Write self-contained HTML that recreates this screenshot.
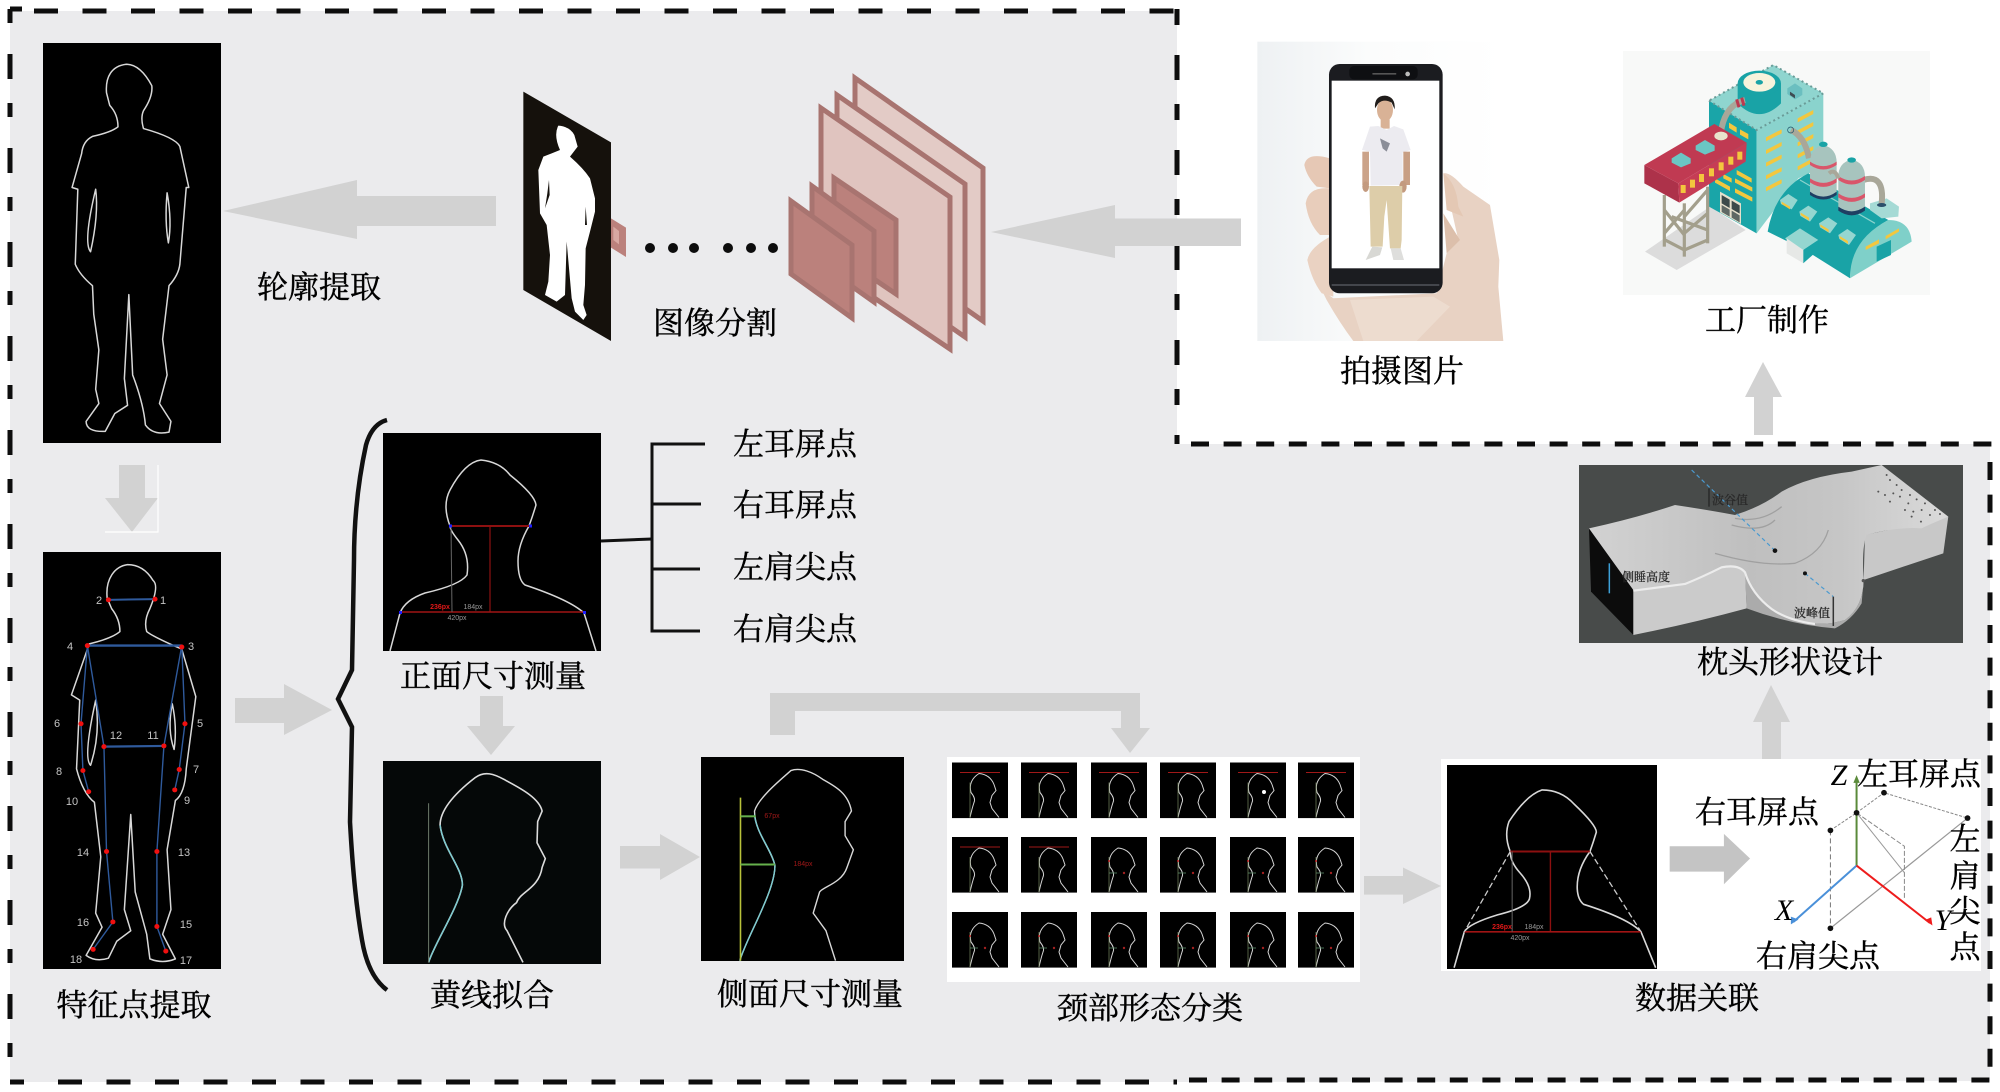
<!DOCTYPE html>
<html lang="zh">
<head>
<meta charset="utf-8">
<title>Diagram</title>
<style>
html,body{margin:0;padding:0;background:#fff;width:2000px;height:1092px;overflow:hidden}
svg{display:block}
path,line,polyline,polygon,rect{vector-effect:non-scaling-stroke}
.l{font-family:"Liberation Serif","Noto Serif CJK SC",serif;font-size:31px;fill:#000;text-anchor:middle;stroke:#000;stroke-width:.4}
.n{font-family:"Liberation Sans",sans-serif;font-size:11px;fill:#c4c4c4;text-anchor:middle}
.s{font-family:"Liberation Sans",sans-serif;font-size:7px;text-anchor:middle}
.a{fill:#d2d2d2}
.o{fill:none;stroke:#d8d8d8;stroke-width:1.5;stroke-linejoin:round}
.ax{font-family:"Liberation Serif",serif;font-style:italic;font-size:30px;fill:#000;text-anchor:middle}
.tiny{font-family:"Liberation Serif","Noto Serif CJK SC",serif;font-size:12px;fill:#2a2a2a;text-anchor:middle;stroke:#2a2a2a;stroke-width:.3}
</style>
</head>
<body>
<svg width="2000" height="1092" viewBox="0 0 2000 1092" xmlns="http://www.w3.org/2000/svg">
<defs>
<linearGradient id="pil" x1="0" y1="0" x2="1" y2="0"><stop offset="0" stop-color="#d2d2d2"/><stop offset=".45" stop-color="#bfbfbf"/><stop offset=".7" stop-color="#c6c6c6"/><stop offset="1" stop-color="#dadada"/></linearGradient>
<linearGradient id="ph" x1="0" y1="0" x2="1" y2="0"><stop offset="0" stop-color="#eef1f3"/><stop offset=".45" stop-color="#fbfcfc"/><stop offset="1" stop-color="#fff"/></linearGradient>
<g id="th">
<rect width="56" height="55.6" fill="#000"/>
<path d="M18 55 Q20 46 22 40 Q24 36 19 30 Q16 18 27 11 Q38 12 42 22 L44 28 L40 33 L38 40 L40 46 L47 55" fill="none" stroke="#d5d5d5" stroke-width="1"/>
<line x1="18" y1="20" x2="18" y2="55" stroke="#7a8a60" stroke-width=".7"/>
</g>
<g id="tr"><use href="#th"/><line x1="8" y1="10" x2="48" y2="10" stroke="#a01818" stroke-width="1"/></g>
<g id="tm"><use href="#th"/><circle cx="18" cy="24" r="1" fill="#c02020"/><line x1="18" y1="36" x2="26" y2="36" stroke="#5a8a6a" stroke-width=".8"/><circle cx="33" cy="36" r="1.2" fill="#a02020"/></g>
</defs>

<rect width="2000" height="1092" fill="#fff"/>
<polygon points="10,11 1177,11 1177,444 1990,444 1990,1081 1177,1082 10,1082" fill="#ebebed"/>

<!-- dashed borders -->
<g fill="none" stroke="#0d0d0d" stroke-width="5">
<line x1="10" y1="11" x2="1177" y2="11" stroke-dasharray="24 24.5" stroke-dashoffset="-24"/>
<line x1="10" y1="9" x2="22" y2="9"/>
<line x1="10" y1="9" x2="10" y2="1084" stroke-dasharray="14 31 25 24"/>
<line x1="10" y1="1082" x2="1177" y2="1082" stroke-dasharray="14 34 24 24.5 24 24.5 24 24.5 24 24.5 24 24.5 24 24.5 24 24.5 24 24.5 24 24.5 24 24.5 24 24.5 24 24.5 24 24.5 24 24.5 24 24.5 24 24.5 24 24.5 24 24.5 24 24.5 24 24.5 24 24.5 24 24.5 24 24.5"/>
<line x1="1177" y1="9" x2="1177" y2="444" stroke-dasharray="16 30 25 24"/>
<line x1="1191" y1="444" x2="1992" y2="444" stroke-dasharray="18 14.6"/>
<line x1="1990" y1="462" x2="1990" y2="1078" stroke-dasharray="18 14.6"/>
<line x1="1189" y1="1080" x2="1990" y2="1080" stroke-dasharray="18 14.6"/>
</g>

<!-- Body 1 -->
<rect x="43" y="43" width="178" height="400" fill="#000"/>
<g transform="scale(.6378 .3571)" class="o">
<path d="M198 180 C175 185 165 215 167 260 L172 295 Q185 320 185 355 Q175 370 145 382 Q130 395 128 430 L113 525 L122 530 L118 740 Q125 770 145 800 L147 880 L155 980 L150 1090 L155 1130 L135 1180 Q135 1210 165 1208 L180 1158 L200 1135 L195 1060 L202 825 L208 1050 Q225 1130 228 1190 Q240 1220 265 1210 L268 1180 L250 1130 L262 1050 L255 950 L265 800 Q280 770 282 740 L292 525 L296 525 L282 410 Q275 385 225 360 Q220 330 225 310 Q240 270 238 240 Q220 180 198 180Z"/>
<path d="M150 530 Q155 600 142 705 Q130 680 150 530Z"/>
<path d="M262 540 Q270 620 264 680 Q258 620 262 540Z"/>
</g>

<!-- Arrow left 1 -->
<polygon class="a" points="223,211 357,180 357,196 496,196 496,226 357,226 357,239"/>
<!-- arrow down -->
<polygon class="a" points="119,465 145,465 145,498 158,498 132,532 105,498 119,498"/>
<polyline points="158,465 158,532 105,532" fill="none" stroke="#fff" stroke-width="1.2"/>

<!-- silhouette -->
<g transform="translate(515 85) scale(.3333)">
<polygon points="288,400 333,428 333,516 288,488" fill="#bb817c"/>
<polygon points="295,425 312,438 312,478 295,465" fill="#d8a8a2"/>
<polygon points="25,20 288,172 288,768 25,615" fill="#15110c"/>
<path d="M130 122 Q165 125 178 150 L188 185 L165 215 Q205 250 225 280 L240 340 L240 380 L225 440 L212 490 L210 600 L205 660 L215 690 L205 705 L180 680 L170 640 L155 470 L150 630 L125 650 L90 630 L100 590 L105 510 L95 420 L75 385 L70 255 L85 215 L110 205 L135 195 Q115 150 130 122Z" fill="#fff"/>
<path d="M102 285 L104 330 L90 370 L97 325Z M212 365 L216 420 L210 420Z" fill="#15110c"/>
</g>

<!-- dots -->
<g fill="#0d0d0d"><circle cx="650" cy="248" r="5"/><circle cx="673" cy="248" r="5"/><circle cx="694" cy="248" r="5"/><circle cx="728" cy="248" r="5"/><circle cx="751" cy="248" r="5"/><circle cx="773" cy="248" r="5"/></g>

<!-- layers -->
<g stroke="#a87470" stroke-width="5">
<polygon points="855,78 983,168 983,321 855,231" fill="#e3cbc6"/>
<polygon points="837,95 965,184 965,337 837,248" fill="#e3cbc6"/>
<polygon points="821,108 950,197 950,349 821,262" fill="#e0c4bf"/>
<polygon points="834,178 896,220 896,294 834,252" fill="#bb817c"/>
<polygon points="812,186 874,231 874,302 812,258" fill="#bb817c"/>
<polygon points="791,201 852,245 852,318 791,274" fill="#bb817c"/>
</g>

<text class="l" x="319" y="298">轮廓提取</text>
<text class="l" x="715" y="334">图像分割</text>

<!-- Phone -->
<g transform="translate(1250 40) scale(.3333)">
<rect x="22" y="5" width="740" height="898" fill="url(#ph)"/>
<path d="M215 750 L250 775 L560 760 L580 680 L590 640 L625 600 L580 400 Q600 395 640 440 L720 495 L748 660 L745 740 L760 903 L310 903 Q270 850 230 780Z" fill="#e8d2c3"/>
<path d="M580 520 L630 600 L590 640 Z" fill="#dcbfab"/>
<path d="M240 355 Q170 335 163 375 Q170 410 200 440 L240 445Z" fill="#e6c8b5"/>
<path d="M240 445 Q175 440 167 490 Q175 550 210 585 L240 585Z" fill="#e8cdbb"/>
<path d="M250 585 Q180 620 172 660 Q185 720 215 760 L250 770Z" fill="#ead2c2"/>
<path d="M580 400 Q620 430 625 500 L640 530 L590 510Z" fill="#e4c8b4"/>
<path d="M300 780 L550 770 L600 800 L500 903 L340 903Z" fill="#eddccf"/>
<rect x="237" y="72" width="341" height="688" rx="32" fill="#1b1c20"/>
<rect x="245" y="122" width="323" height="563" fill="#fff"/>
<rect x="298" y="78" width="205" height="40" rx="14" fill="#0e0f12"/>
<rect x="367" y="99" width="72" height="5" rx="2" fill="#555"/>
<circle cx="473" cy="102" r="7" fill="#bbb"/>
<path d="M245 735 L568 735" stroke="#44464c" stroke-width="2" fill="none"/>
<!-- person -->
<ellipse cx="405" cy="210" rx="24" ry="34" fill="#d9b296"/>
<path d="M375 205 Q372 168 405 167 Q437 170 434 208 L425 188 Q402 175 385 190Z" fill="#211d1b"/>
<rect x="392" y="238" width="27" height="28" fill="#d9b296"/>
<path d="M360 260 L385 258 L410 270 L432 258 L460 268 L482 330 L458 338 L458 435 L362 437 L360 335 L336 330Z" fill="#ecebf0"/>
<path d="M390 295 L420 310 L410 335 L398 325Z" fill="#8b8e98"/>
<rect x="337" y="335" width="20" height="100" fill="#cba389"/>
<rect x="460" y="335" width="20" height="100" fill="#c89f84"/>
<ellipse cx="347" cy="440" rx="10" ry="16" fill="#c39a7f"/>
<ellipse cx="459" cy="440" rx="11" ry="18" fill="#c39a7f"/>
<path d="M358 438 L457 438 L455 600 L452 625 L420 625 L410 480 L403 530 L398 620 L362 620Z" fill="#ddcda9"/>
<path d="M367 620 L397 622 L390 645 L347 660Z" fill="#d8d8d4"/>
<path d="M422 625 L452 625 L462 660 L430 660Z" fill="#dededc"/>
</g>

<!-- Factory -->
<rect x="1623" y="51" width="307" height="244" fill="#f8f9f8"/>
<g transform="translate(1625 50) scale(.3333)">
<polygon points="60,605 155,660 362,540 255,470" fill="#dcdcdc"/>
<!-- tower -->
<polygon points="252,152 395,240 395,550 252,470" fill="#1aa5a8"/>
<polygon points="395,240 595,130 595,350 520,385 395,550" fill="#8ad3cd"/>
<polygon points="252,152 445,45 595,130 395,240" fill="#8fd5cf"/>
<path d="M252 152 L395 240 L595 130 L445 45Z" fill="none" stroke="#6a9c98" stroke-width="2" stroke-dasharray="2 3"/>
<g fill="#f3c73e">
<polygon points="423,262 470,238 470,250 423,274"/><polygon points="423,300 470,276 470,288 423,312"/><polygon points="423,338 470,314 470,326 423,350"/><polygon points="423,376 470,352 470,364 423,388"/><polygon points="423,412 470,388 470,400 423,424"/>
<polygon points="518,205 565,180 565,192 518,217"/><polygon points="518,241 565,216 565,228 518,253"/><polygon points="518,277 565,252 565,264 518,289"/><polygon points="518,313 565,288 565,300 518,325"/><polygon points="518,349 565,324 565,336 518,361"/>
<polygon points="335,360 380,385 380,398 335,373"/><polygon points="330,385 382,412 382,425 330,398"/><polygon points="330,415 382,442 382,455 330,428"/>
<polygon points="270,385 315,410 315,423 270,398"/><polygon points="295,372 320,385 320,398 295,385"/>
<polygon points="312,218 335,232 335,248 312,234" /><polygon points="345,238 370,252 370,268 345,254"/>
</g>
<polygon points="285,425 348,460 348,522 285,487" fill="#e6e0cc"/>
<g fill="#3c4a4a"><polygon points="290,435 314,449 314,474 290,460"/><polygon points="320,452 344,466 344,491 320,477"/><polygon points="290,465 314,479 314,500 290,486" opacity=".8"/><polygon points="320,482 344,496 344,517 320,503" opacity=".8"/></g>
<!-- cylinder -->
<path d="M338 100 L338 160 Q403 225 468 160 L468 100Z" fill="#19a3a6"/>
<ellipse cx="403" cy="100" rx="65" ry="38" fill="#19a3a6"/>
<ellipse cx="403" cy="97" rx="48" ry="28" fill="#f7f3dc"/>
<ellipse cx="403" cy="97" rx="11" ry="7" fill="#19a3a6"/>
<polygon points="487,115 510,100 532,115 532,135 510,148 487,132" fill="#6bbfc0"/>
<polygon points="495,125 510,135 510,145 495,135" fill="#3f4c52"/>
<path d="M360 150 Q300 165 288 245" fill="none" stroke="#a9a799" stroke-width="6"/>
<path d="M335 148 L342 172 M350 143 L357 167" fill="none" stroke="#bb3a50" stroke-width="3"/>
<!-- legs -->
<g stroke="#a39f8c" stroke-width="3.2" fill="none">
<line x1="118" y1="435" x2="118" y2="590"/><line x1="178" y1="460" x2="178" y2="620"/><line x1="248" y1="410" x2="248" y2="580"/>
<line x1="118" y1="480" x2="178" y2="555"/><line x1="178" y1="480" x2="118" y2="550"/><line x1="178" y1="500" x2="248" y2="420"/><line x1="178" y1="550" x2="248" y2="490"/><line x1="120" y1="570" x2="178" y2="600"/><line x1="178" y1="600" x2="248" y2="570"/><line x1="140" y1="500" x2="248" y2="540"/>
</g>
<!-- red platform -->
<polygon points="58,345 160,400 163,458 58,400" fill="#ad324a"/>
<polygon points="160,400 365,278 362,335 163,458" fill="#c63d55"/>
<polygon points="58,345 268,222 365,278 160,400" fill="#c03a52"/>
<g fill="#f3c73e">
<rect x="167" y="405" width="15" height="24" /><rect x="195" y="389" width="15" height="24"/><rect x="222" y="372" width="15" height="24"/><rect x="252" y="355" width="15" height="24"/><rect x="281" y="337" width="15" height="24"/><rect x="310" y="320" width="15" height="24"/><rect x="337" y="305" width="15" height="24"/>
</g>
<polygon points="140,325 168,308 197,325 197,340 168,352 140,338" fill="#6bc6c4"/>
<polygon points="212,287 240,270 269,287 269,302 240,314 212,300" fill="#6bc6c4"/>
<ellipse cx="288" cy="258" rx="20" ry="13" fill="#e8e3cc"/>
<!-- hall -->
<path d="M428 545 Q450 420 550 370 L790 510 Q680 570 675 685 L540 600 Z" fill="#19a3a6"/>
<path d="M675 685 Q675 570 790 510 Q855 510 860 575Z" fill="#7fd0c9"/>
<polygon points="755,590 798,570 798,615 755,635" fill="#19a3a6"/>
<polygon points="722,590 762,568 762,580 722,600" fill="#f3c73e"/><polygon points="782,558 822,535 822,545 782,568" fill="#f3c73e"/>
<line x1="525" y1="390" x2="750" y2="520" stroke="#8ad3cd" stroke-width="1.2"/>
<polygon points="480,565 525,535 580,570 535,600" fill="#95d6d0"/>
<polygon points="485,565 535,600 535,640 485,610" fill="#e6e8e6"/>
<polygon points="535,600 580,570 580,600 535,640" fill="#19a3a6"/>
<g>
<polygon points="465,450 490,432 518,450 500,478 468,462" fill="#95d6d0"/><polygon points="470,462 495,478 495,470 470,455" fill="#f3c73e"/>
<polygon points="523,485 550,467 577,485 555,515 526,498" fill="#95d6d0"/><polygon points="527,495 552,512 552,503 527,488" fill="#f3c73e"/>
<polygon points="582,520 610,502 637,520 615,550 585,532" fill="#95d6d0"/><polygon points="586,530 611,547 611,538 586,523" fill="#f3c73e"/>
<polygon points="640,555 667,537 693,555 672,585 643,567" fill="#95d6d0"/><polygon points="644,565 669,582 669,573 644,558" fill="#f3c73e"/>
</g>
<!-- pipes -->
<path d="M498 240 Q540 260 552 325" fill="none" stroke="#a9a799" stroke-width="6"/>
<circle cx="497" cy="240" r="9" fill="none" stroke="#1c4f66" stroke-width="2"/>
<polygon points="735,460 785,445 822,470 820,500 770,505 735,480" fill="#a5dad5"/>
<path d="M715 390 Q780 370 770 462" fill="none" stroke="#a9a799" stroke-width="6"/>
<ellipse cx="770" cy="465" rx="14" ry="6" fill="#2b4f6b"/>
<!-- tanks -->
<path d="M555 338 Q555 295 595 285 Q635 295 635 338 L635 430 Q595 455 555 430Z" fill="#a7c4be"/>
<path d="M555 335 Q595 362 635 335 L635 345 Q595 372 555 345Z M555 385 Q595 412 635 385 L635 397 Q595 424 555 397Z" fill="#d9566a"/>
<path d="M555 425 Q595 455 635 425 L635 435 Q595 462 555 435Z" fill="#1f3f63"/>
<ellipse cx="595" cy="283" rx="13" ry="8" fill="#19a3a6"/>
<path d="M640 380 Q640 338 680 328 Q720 338 720 380 L720 475 Q680 500 640 475Z" fill="#a7c4be"/>
<path d="M640 378 Q680 405 720 378 L720 390 Q680 417 640 390Z M640 430 Q680 457 720 430 L720 442 Q680 469 640 442Z" fill="#d9566a"/>
<path d="M640 470 Q680 498 720 470 L720 482 Q680 510 640 482Z" fill="#1f3f63"/>
<ellipse cx="680" cy="330" rx="13" ry="8" fill="#19a3a6"/>
<path d="M612 370 Q630 355 640 385" fill="none" stroke="#a9a799" stroke-width="4"/>
</g>

<text class="l" x="1767" y="331">工厂制作</text>
<text class="l" x="1402" y="382">拍摄图片</text>

<!-- arrow from phone -->
<polygon class="a" points="991,232 1115,205 1115,218.5 1241,218.5 1241,246 1115,246 1115,258"/>
<!-- arrow up to factory -->
<polygon class="a" points="1763,362 1782,397 1773,397 1773,435 1754,435 1754,397 1745,397"/>

<!-- Pillow -->
<rect x="1579" y="465" width="384" height="178" fill="#484b4a"/>
<g transform="translate(1575 460) scale(.3333)">
<polygon points="42,205 175,390 175,525 48,395" fill="#0c0c0c"/>
<path d="M870 225 L1120 170 L1105 280 L866 360Z" fill="#c8c8c8"/>
<path d="M175 390 L330 370 L420 320 L510 320 L515 445 Q350 490 175 525Z" fill="#cbcbcb"/>
<path d="M510 335 Q530 400 590 445 Q640 480 720 490 Q760 495 810 480 Q865 440 866 360 L860 430 Q830 480 780 505 Q650 495 515 445Z" fill="#ababab"/>
<path d="M42 205 Q180 175 300 135 Q400 150 480 165 Q560 140 620 95 Q700 50 830 35 L920 15 L1120 170 Q1060 195 1040 205 Q960 200 875 225 Q860 260 866 360 Q865 440 810 480 Q760 495 720 490 Q640 480 590 445 Q530 400 510 335 Q490 310 440 320 Q380 350 330 370 Q250 380 175 390Z" fill="url(#pil)"/>
<path d="M175 392 Q250 382 330 372 Q380 352 440 322 Q490 312 510 337 Q530 402 590 447 Q640 482 720 492" fill="none" stroke="#ececec" stroke-width="2.2"/>
<path d="M470 195 Q560 220 600 180 M480 175 Q560 190 620 140 M420 280 Q560 320 660 310 Q740 280 760 210" fill="none" stroke="#a0a0a0" stroke-width="1.3"/>
<path d="M350 30 L600 272 M690 340 L775 410" fill="none" stroke="#4a9ad0" stroke-width="1.2" stroke-dasharray="4 3"/>
<line x1="402" y1="85" x2="402" y2="140" stroke="#222" stroke-width="1.2"/>
<line x1="103" y1="310" x2="103" y2="400" stroke="#3da0d8" stroke-width="1.5"/>
<line x1="775" y1="410" x2="775" y2="498" stroke="#333" stroke-width="1.5"/>
<g fill="#111"><circle cx="600" cy="272" r="7"/><circle cx="690" cy="340" r="6"/><circle cx="865" cy="362" r="5" fill="#555"/></g>
<g fill="#555"><circle cx="935" cy="45" r="3"/><circle cx="945" cy="60" r="3"/><circle cx="965" cy="75" r="3"/><circle cx="980" cy="90" r="3"/><circle cx="1005" cy="105" r="3"/><circle cx="1025" cy="118" r="3"/><circle cx="1050" cy="130" r="3"/><circle cx="1080" cy="150" r="3"/><circle cx="1095" cy="162" r="3"/><circle cx="910" cy="95" r="3"/><circle cx="930" cy="105" r="3"/><circle cx="955" cy="100" r="3"/><circle cx="945" cy="125" r="3"/><circle cx="975" cy="110" r="3"/><circle cx="1000" cy="130" r="3"/><circle cx="990" cy="150" r="3"/><circle cx="1015" cy="155" r="3"/><circle cx="1040" cy="150" r="3"/><circle cx="1010" cy="170" r="3"/><circle cx="1038" cy="185" r="3"/><circle cx="1065" cy="165" r="3"/></g>
</g>
<text class="tiny" x="1730" y="504">波谷值</text>
<text class="tiny" x="1646" y="581">侧睡高度</text>
<text class="tiny" x="1812" y="617">波峰值</text>

<text class="l" x="1790" y="673">枕头形状设计</text>

<!-- Body 2 -->
<rect x="43" y="552" width="178" height="417" fill="#000"/>
<g transform="translate(0 540) scale(.6378 .352)">
<path class="o" d="M200 70 C180 75 165 110 168 165 L175 195 Q188 225 188 260 Q175 280 140 295 L112 440 L125 455 L120 650 Q130 720 148 745 L158 900 L150 1060 L160 1100 L135 1180 Q150 1200 170 1188 L183 1140 L205 1110 L195 1050 L205 780 L212 1000 L230 1120 L235 1190 Q255 1205 275 1190 L255 1120 L268 1050 L262 880 L275 740 Q290 720 292 650 L307 445 L285 310 Q240 275 230 260 Q225 230 235 195 Q250 130 240 115 Q225 70 200 70Z"/>
<path class="o" d="M150 455 Q158 550 142 640 Q130 620 150 455Z"/>
<path class="o" d="M270 465 Q278 530 273 595 Q262 540 270 465Z"/>
<g fill="none" stroke="#2f5a9c" stroke-width="1.4">
<line x1="170" y1="170" x2="243" y2="168" stroke-width="2"/>
<line x1="137" y1="300" x2="285" y2="300" stroke-width="2.4"/>
<polyline points="137,300 127,522 130,655 139,715"/>
<polyline points="137,300 163,587 167,885 177,1085 146,1163"/>
<polyline points="285,300 290,522 281,652 274,710"/>
<polyline points="285,300 257,585 246,885 246,1098 260,1168"/>
<line x1="163" y1="587" x2="257" y2="585" stroke-width="2.2"/>
</g>
<g fill="#f01010">
<ellipse cx="170" cy="170" rx="4" ry="7"/><ellipse cx="243" cy="168" rx="4" ry="7"/><ellipse cx="137" cy="300" rx="4" ry="7"/><ellipse cx="285" cy="304" rx="4" ry="7"/><ellipse cx="127" cy="522" rx="4" ry="7"/><ellipse cx="290" cy="522" rx="4" ry="7"/><ellipse cx="163" cy="587" rx="4" ry="7"/><ellipse cx="257" cy="585" rx="4" ry="7"/><ellipse cx="130" cy="655" rx="4" ry="7"/><ellipse cx="281" cy="652" rx="4" ry="7"/><ellipse cx="139" cy="715" rx="4" ry="7"/><ellipse cx="274" cy="710" rx="4" ry="7"/><ellipse cx="167" cy="885" rx="4" ry="7"/><ellipse cx="246" cy="885" rx="4" ry="7"/><ellipse cx="177" cy="1085" rx="4" ry="7"/><ellipse cx="246" cy="1098" rx="4" ry="7"/><ellipse cx="146" cy="1163" rx="4" ry="7"/><ellipse cx="260" cy="1168" rx="4" ry="7"/>
</g>
</g>
<g class="n">
<text x="99" y="604">2</text><text x="163" y="604">1</text><text x="70" y="650">4</text><text x="191" y="650">3</text><text x="57" y="727">6</text><text x="200" y="727">5</text><text x="116" y="739">12</text><text x="153" y="739">11</text><text x="59" y="775">8</text><text x="196" y="773">7</text><text x="72" y="805">10</text><text x="187" y="804">9</text><text x="83" y="856">14</text><text x="184" y="856">13</text><text x="83" y="926">16</text><text x="186" y="928">15</text><text x="76" y="963">18</text><text x="186" y="964">17</text>
</g>
<text class="l" x="134" y="1016">特征点提取</text>

<!-- arrow right -->
<polygon class="a" points="235,698 284,698 284,684 332,710 284,735 284,723 235,723"/>

<!-- brace -->
<path d="M387 420 Q372 424 366 445 Q354 500 354 560 L352 670 L338 699 L352 727 L350 822 Q354 895 362 940 Q368 976 387 990" fill="none" stroke="#111" stroke-width="4.5"/>

<!-- front panel -->
<rect x="383" y="433" width="218" height="218" fill="#000"/>
<path class="o" d="M390 651 L400 613 Q405 600 425 593 Q460 585 467 575 Q470 555 458 540 Q450 530 450 526 Q442 505 450 490 Q465 462 481 460 Q500 462 510 475 Q535 495 536 505 Q533 515 529 526 Q518 545 518 561 Q518 580 525 585 Q570 600 584 613 L596 651"/>
<line x1="451" y1="526" x2="529" y2="526" stroke="#8d1010" stroke-width="2"/>
<line x1="490" y1="526" x2="490" y2="612" stroke="#8d1010" stroke-width="1.2"/>
<line x1="400" y1="612" x2="584" y2="612" stroke="#a01414" stroke-width="1.5"/>
<line x1="451" y1="526" x2="452" y2="612" stroke="#666" stroke-width="1"/>
<rect x="449" y="524.5" width="3" height="3" fill="#2020ff"/><rect x="529" y="524.5" width="3" height="3" fill="#2020ff"/><rect x="399" y="611" width="3" height="3" fill="#2020ff"/><rect x="583" y="611" width="3" height="3" fill="#2020ff"/>
<text class="s" x="440" y="609" fill="#e01818" font-weight="bold">236px</text>
<text class="s" x="473" y="609" fill="#999">184px</text>
<text class="s" x="457" y="620" fill="#999">420px</text>

<!-- tree -->
<g fill="none" stroke="#111" stroke-width="3">
<polyline points="705,444 652,444 652,631 700,631"/>
<line x1="652" y1="504" x2="701" y2="504"/>
<line x1="652" y1="569" x2="700" y2="569"/>
<line x1="601" y1="541" x2="652" y2="539"/>
</g>
<text class="l" x="795" y="455">左耳屏点</text>
<text class="l" x="795" y="516">右耳屏点</text>
<text class="l" x="795" y="578">左肩尖点</text>
<text class="l" x="795" y="640">右肩尖点</text>
<text class="l" x="493" y="687">正面尺寸测量</text>

<!-- arrow down 2 -->
<polygon class="a" points="480,696 503,696 503,726 515,726 491,755 467,726 480,726"/>

<!-- yellow panel -->
<rect x="383" y="761" width="218" height="203" fill="#050808"/>
<g transform="translate(0 540) scale(.6378 .352)">
<path fill="none" stroke="#dcdcdc" stroke-width="1.6" stroke-linejoin="round" d="M672 1200 C680 1150 720 1040 725 980 C725 930 695 880 690 810 C690 760 720 710 745 675 C760 655 775 665 790 680 C810 700 845 730 850 770 L843 800 L842 860 L855 905 L850 930 C845 990 815 1000 810 1030 C795 1050 785 1090 795 1110 L820 1200"/>
<path fill="none" stroke="#7ccbd0" stroke-width="1.4" d="M690 810 C695 880 725 930 725 980 C720 1040 680 1150 672 1200"/>
<line x1="672" y1="748" x2="672" y2="1200" stroke="#6d7a6a" stroke-width="1"/>
</g>
<text class="l" x="492" y="1006">黄线拟合</text>

<!-- arrow to side panel -->
<polygon class="a" points="620,846 660,846 660,834 700,857 660,880 660,868.5 620,868.5"/>

<!-- side panel -->
<rect x="701" y="757" width="203" height="204" fill="#000"/>
<g transform="translate(0 540) scale(.6378 .352)">
<path fill="none" stroke="#d8d8d8" stroke-width="1.4" stroke-linejoin="round" d="M1160 1195 C1170 1130 1215 1000 1215 925 C1210 880 1183 830 1183 770 C1190 730 1225 680 1240 655 C1255 645 1275 660 1290 680 C1310 700 1330 720 1335 770 L1325 800 L1325 840 L1338 880 L1328 930 C1320 975 1290 985 1285 1000 L1275 1060 L1295 1110 L1310 1195"/>
<path fill="none" stroke="#7ccbd0" stroke-width="1.4" d="M1183 780 C1185 830 1210 880 1215 925 C1215 1000 1170 1130 1160 1195"/>
<line x1="1161" y1="732" x2="1161" y2="1195" stroke="#b8c23a" stroke-width="1.6"/>
<line x1="1161" y1="785" x2="1185" y2="785" stroke="#66b04c" stroke-width="2"/>
<line x1="1161" y1="922" x2="1215" y2="922" stroke="#66b04c" stroke-width="2"/>
</g>
<text class="s" x="772" y="818" fill="#a01818">67px</text>
<text class="s" x="803" y="866" fill="#a01818">184px</text>
<text class="l" x="810" y="1005">侧面尺寸测量</text>

<!-- bracket arrow -->
<polygon class="a" points="770,735 770,693 1140,693 1140,728 1150,728 1130,753 1111,728 1121,728 1121,711 795,711 795,735"/>

<!-- grid -->
<rect x="947" y="757" width="413" height="225" fill="#fff"/>
<use href="#tr" x="952" y="762.5"/><use href="#tr" x="1021" y="762.5"/><use href="#tr" x="1091" y="762.5"/><use href="#tr" x="1160" y="762.5"/><use href="#tr" x="1230" y="762.5"/><use href="#tr" x="1298" y="762.5"/>
<use href="#tr" x="952" y="837"/><use href="#tr" x="1021" y="837"/><use href="#tm" x="1091" y="837"/><use href="#tm" x="1160" y="837"/><use href="#tm" x="1230" y="837"/><use href="#tm" x="1298" y="837"/>
<use href="#tm" x="952" y="912"/><use href="#tm" x="1021" y="912"/><use href="#tm" x="1091" y="912"/><use href="#tm" x="1160" y="912"/><use href="#tm" x="1230" y="912"/><use href="#tm" x="1298" y="912"/>
<circle cx="1264" cy="792" r="2" fill="#fff"/>
<text class="l" x="1150" y="1019">颈部形态分类</text>

<!-- arrow to data -->
<polygon class="a" points="1364,876 1403,876 1403,867.5 1441,886 1403,904 1403,894.6 1364,894.6"/>

<!-- data panel -->
<rect x="1441" y="759" width="540" height="212" fill="#fff"/>
<rect x="1447" y="765" width="210" height="204" fill="#000"/>
<g transform="translate(1000 540) scale(.6378 .352)">
<path fill="none" stroke="#d8d8d8" stroke-width="1.6" stroke-linejoin="round" d="M712 1215 L728 1113 Q735 1090 780 1065 Q825 1045 830 1020 Q835 985 815 945 Q800 915 800 885 Q790 840 798 800 Q825 725 850 710 Q880 710 900 750 Q935 810 935 830 Q930 860 925 885 Q905 935 905 985 Q905 1020 915 1035 Q985 1075 1005 1113 L1028 1215"/>
<line x1="800" y1="885" x2="925" y2="885" stroke="#8d1010" stroke-width="2"/>
<line x1="863" y1="885" x2="863" y2="1113" stroke="#8d1010" stroke-width="1.4"/>
<line x1="728" y1="1113" x2="1005" y2="1113" stroke="#a01414" stroke-width="1.6"/>
<line x1="803" y1="885" x2="803" y2="1113" stroke="#666" stroke-width="1"/>
<line x1="800" y1="885" x2="728" y2="1113" stroke="#ccc" stroke-width="1.3" stroke-dasharray="6 3"/>
<line x1="925" y1="885" x2="1005" y2="1113" stroke="#ccc" stroke-width="1.3" stroke-dasharray="6 3"/>
<!-- inner arrow -->
<polygon points="1050,870 1135,870 1135,835 1176,905 1135,978 1135,942 1050,942" fill="#c4c4c4"/>
<!-- 3D -->
<g fill="none">
<polyline points="1302,825 1343,775 1386,718 1517,790" stroke="#888" stroke-width="1" stroke-dasharray="3 1.5"/>
<line x1="1517" y1="790" x2="1302" y2="1103" stroke="#999" stroke-width="1.2"/>
<line x1="1302" y1="825" x2="1302" y2="1103" stroke="#777" stroke-width="1" stroke-dasharray="5 3"/>
<polyline points="1343,775 1418,870 1418,1020" stroke="#888" stroke-width="1" stroke-dasharray="5 2"/>
<line x1="1343" y1="775" x2="1418" y2="945" stroke="#999" stroke-width="1"/>
<line x1="1343" y1="925" x2="1343" y2="680" stroke="#5a8a3a" stroke-width="2"/>
<line x1="1343" y1="925" x2="1244" y2="1085" stroke="#4a90d9" stroke-width="2"/>
<line x1="1343" y1="925" x2="1458" y2="1088" stroke="#ee1c1c" stroke-width="2"/>
</g>
<polygon points="1343,668 1338,690 1348,690" fill="#5a8a3a"/>
<polygon points="1240,1092 1240,1070 1252,1078" fill="#4a90d9"/>
<polygon points="1462,1095 1450,1080 1460,1072" fill="#ee1c1c"/>
<g fill="#111"><ellipse cx="1343" cy="775" rx="4.5" ry="8"/><ellipse cx="1386" cy="718" rx="4.5" ry="8"/><ellipse cx="1517" cy="790" rx="4.5" ry="8"/><ellipse cx="1302" cy="825" rx="4.5" ry="8"/><ellipse cx="1302" cy="1103" rx="4.5" ry="8"/></g>
</g>
<text class="s" x="1502" y="929" fill="#e01818" font-weight="bold">236px</text>
<text class="s" x="1534" y="929" fill="#999">184px</text>
<text class="s" x="1520" y="940" fill="#999">420px</text>
<text class="ax" x="1839" y="785">Z</text>
<text class="ax" x="1784" y="920">X</text>
<text class="ax" x="1943" y="930">Y</text>
<text class="l" x="1919" y="785">左耳屏点</text>
<text class="l" x="1757" y="823">右耳屏点</text>
<text class="l" x="1818" y="967">右肩尖点</text>
<text class="l" x="1965" y="850">左</text>
<text class="l" x="1965" y="887">肩</text>
<text class="l" x="1965" y="922">尖</text>
<text class="l" x="1965" y="958">点</text>
<text class="l" x="1697" y="1009">数据关联</text>

<!-- arrow up -->
<polygon class="a" points="1771,685 1790,722 1781,722 1781,759 1762,759 1762,722 1753,722"/>
</svg>
</body>
</html>
